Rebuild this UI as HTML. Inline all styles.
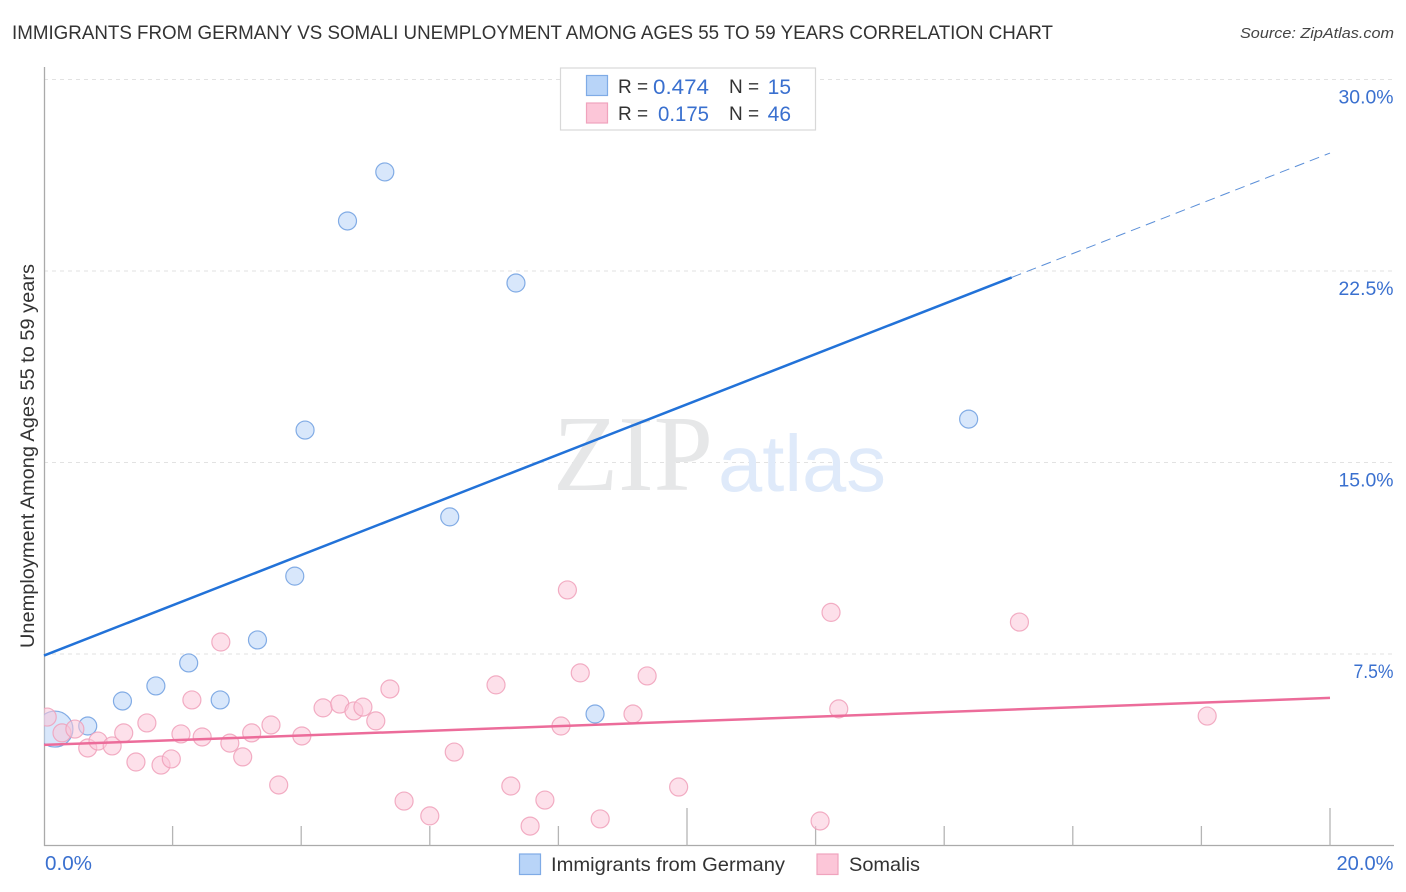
<!DOCTYPE html>
<html lang="en">
<head>
<meta charset="utf-8">
<title>Immigrants from Germany vs Somali Unemployment Correlation Chart</title>
<style>
html,body{margin:0;padding:0;background:#fff;width:1406px;height:892px;overflow:hidden}
svg{display:block;font-family:"Liberation Sans",sans-serif}
</style>
</head>
<body>
<svg id="chart" xmlns="http://www.w3.org/2000/svg" width="1406" height="892" viewBox="0 0 1406 892">
  <defs>
    <clipPath id="plot-clip"><rect x="44" y="60" width="1350" height="786"/></clipPath>
  </defs>
  <text x="12" y="39" font-size="19.5" fill="#333" textLength="1041" lengthAdjust="spacingAndGlyphs">IMMIGRANTS FROM GERMANY VS SOMALI UNEMPLOYMENT AMONG AGES 55 TO 59 YEARS CORRELATION CHART</text>
  <text x="1394" y="38" font-size="15" font-style="italic" fill="#444" text-anchor="end" textLength="154" lengthAdjust="spacingAndGlyphs">Source: ZipAtlas.com</text>

  <g id="grid"></g>

  <g>
    <text x="553" y="490" font-family="'Liberation Serif',serif" font-size="108" fill="#e6e7e8" textLength="160" lengthAdjust="spacingAndGlyphs">ZIP</text>
    <text x="718" y="491" font-size="80" fill="#dfeafa" textLength="168" lengthAdjust="spacingAndGlyphs">atlas</text>
  </g>

  <g id="axes">
    <line x1="44.5" y1="67" x2="44.5" y2="846" stroke="#aaa" stroke-width="1.3"/>
    <line x1="44" y1="845.5" x2="1394" y2="845.5" stroke="#aaa" stroke-width="1.3"/>
  </g>

  <g id="points" clip-path="url(#plot-clip)"></g>
  <g id="trends"></g>
  <g id="labels"></g>

  <text transform="translate(34 648) rotate(-90)" font-size="19" fill="#333" textLength="384" lengthAdjust="spacingAndGlyphs">Unemployment Among Ages 55 to 59 years</text>

  <g>
    <rect x="560.5" y="68" width="255" height="62" fill="#fff" stroke="#d8d8d8" stroke-width="1.2"/>
    <rect x="586.5" y="75.5" width="21" height="20" fill="#b8d4f8" stroke="#7fabe6" stroke-width="1.2"/>
    <rect x="586.5" y="103" width="21" height="20" fill="#fcc6d8" stroke="#f0a3bd" stroke-width="1.2"/>
    <text x="618" y="93" font-size="19" fill="#333">R =</text>
    <text x="709" y="94" font-size="21" fill="#3a70cf" text-anchor="end" textLength="56" lengthAdjust="spacingAndGlyphs">0.474</text>
    <text x="729" y="93" font-size="19" fill="#333">N =</text>
    <text x="791" y="94" font-size="21" fill="#3a70cf" text-anchor="end">15</text>
    <text x="618" y="120" font-size="19" fill="#333">R =</text>
    <text x="709" y="121" font-size="21" fill="#3a70cf" text-anchor="end" textLength="51" lengthAdjust="spacingAndGlyphs">0.175</text>
    <text x="729" y="120" font-size="19" fill="#333">N =</text>
    <text x="791" y="121" font-size="21" fill="#3a70cf" text-anchor="end">46</text>
  </g>

  <g>
    <rect x="519.5" y="854" width="21" height="20.5" fill="#b8d4f8" stroke="#7fabe6" stroke-width="1.2"/>
    <text x="551" y="871" font-size="19.5" fill="#333" textLength="234" lengthAdjust="spacingAndGlyphs">Immigrants from Germany</text>
    <rect x="817" y="854" width="21" height="20.5" fill="#fcc6d8" stroke="#f0a3bd" stroke-width="1.2"/>
    <text x="849" y="871" font-size="19.5" fill="#333" textLength="71" lengthAdjust="spacingAndGlyphs">Somalis</text>
  </g>
</svg>

<script>
const germanyX = [5.30,4.72,7.34,4.06,14.38,6.31,3.90,3.32,2.25,1.74,1.22,2.74,0.68,8.57,0.17];
const germanyY = [26.38,24.46,22.03,16.27,16.70,12.87,10.55,8.05,7.15,6.25,5.66,5.70,4.68,5.15,4.56];
const germanyRadius = [9,9,9,9,9,9,9,9,9,9,9,9,9,9,18];

const somaliX = [0.05,0.28,0.48,0.68,0.84,1.06,1.24,1.43,1.60,1.82,1.98,2.13,2.30,2.46,2.75,2.89,3.09,3.23,3.53,3.65,4.01,4.34,4.60,4.82,4.96,5.16,5.38,5.60,6.00,6.38,7.03,7.26,7.56,7.79,8.04,8.14,8.34,8.65,9.16,9.38,9.87,12.07,12.24,12.36,15.17,18.09];
const somaliY = [5.03,4.41,4.56,3.82,4.09,3.90,4.41,3.27,4.80,3.15,3.39,4.37,5.70,4.25,7.97,4.01,3.47,4.41,4.72,2.37,4.29,5.39,5.54,5.27,5.42,4.88,6.13,1.74,1.16,3.66,6.29,2.33,0.76,1.78,4.68,10.01,6.76,1.04,5.15,6.64,2.29,0.96,9.13,5.35,8.75,5.07];

const germanyTrend = [7.44, 27.12];
const germanySolidEnd = 15.05;
const somaliTrend = [3.94, 5.78];

const yTicks = [7.5, 15, 22.5, 30];
const yTickLabels = ["7.5%", "15.0%", "22.5%", "30.0%"];
const xTicks = [2, 4, 6, 8, 10, 12, 14, 16, 18, 20];
const xMajorTicks = [10, 20];
const xEndValues = [0, 20];
const xEndLabels = ["0.0%", "20.0%"];

const NS = "http://www.w3.org/2000/svg";
function xScale(v) { return 44 + v * 64.3; }
function yScale(v) { return 845.5 - v * 25.533; }
function make(tag, attrs, parent) {
  const el = document.createElementNS(NS, tag);
  for (const k in attrs) el.setAttribute(k, attrs[k]);
  parent.appendChild(el);
  return el;
}
function trendAt(t, x) { return t[0] + (t[1] - t[0]) * x / 20; }

const grid = document.getElementById("grid");
const axes = document.getElementById("axes");
const labels = document.getElementById("labels");
const points = document.getElementById("points");
const trends = document.getElementById("trends");

yTicks.forEach(function (v, i) {
  const line = make("line", {x1: 44, x2: 1394, y1: yScale(v), y2: yScale(v), stroke: "#e2e2e2", "stroke-width": 1, "stroke-dasharray": "4 4"}, grid);
  
  
  const t = make("text", {x: 1393.5, y: yScale(v) + 24, "font-size": 19.5, fill: "#3a70cf", "text-anchor": "end", textLength: yTickLabels[i].length === 4 ? 40 : 55, lengthAdjust: "spacingAndGlyphs"}, labels);
  t.textContent = yTickLabels[i];
  
  
});

xTicks.forEach(function (v) {
  const major = xMajorTicks.indexOf(v) >= 0;
  const tick = make("line", {x1: xScale(v), x2: xScale(v), y1: major ? 808 : 826, y2: 845.5, stroke: "#b5b5b5", "stroke-width": 1.3}, axes);
  
  
});

xEndValues.forEach(function (v, i) {
  const t = make("text", {x: i === 0 ? xScale(v) + 1 : xScale(v) + 63.5, y: 870, "font-size": 20, fill: "#3a70cf", "text-anchor": i === 0 ? "start" : "end", textLength: i === 0 ? 47 : 57, lengthAdjust: "spacingAndGlyphs"}, labels);
  t.textContent = xEndLabels[i];
  
  
});

germanyX.forEach(function (v, i) {
  const c = make("circle", {cx: xScale(v), cy: yScale(germanyY[i]), r: germanyRadius[i], fill: "#b8d4f8", "fill-opacity": 0.55, stroke: "#6f9fe0", "stroke-opacity": 0.85, "stroke-width": 1.2}, points);
  
  
});

somaliX.forEach(function (v, i) {
  const c = make("circle", {cx: xScale(v), cy: yScale(somaliY[i]), r: 9, fill: "#fcc6d8", "fill-opacity": 0.55, stroke: "#f0a0ba", "stroke-opacity": 0.85, "stroke-width": 1.2}, points);
  
  
});

const gSolid = make("line", {x1: xScale(0), y1: yScale(trendAt(germanyTrend, 0)), x2: xScale(germanySolidEnd), y2: yScale(trendAt(germanyTrend, germanySolidEnd)), stroke: "#2272d8", "stroke-width": 2.5}, trends);



const gDash = make("line", {x1: xScale(germanySolidEnd), y1: yScale(trendAt(germanyTrend, germanySolidEnd)), x2: xScale(20), y2: yScale(trendAt(germanyTrend, 20)), stroke: "#5b8fd8", "stroke-width": 1, "stroke-dasharray": "10 6"}, trends);



const sSolid = make("line", {x1: xScale(0), y1: yScale(trendAt(somaliTrend, 0)), x2: xScale(20), y2: yScale(trendAt(somaliTrend, 20)), stroke: "#ec6c9a", "stroke-width": 2.5}, trends);


</script>
</body>
</html>
